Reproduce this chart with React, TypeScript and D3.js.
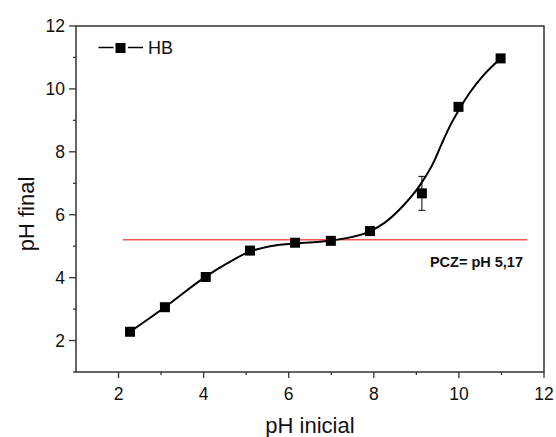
import React from "react";
import * as d3 from "d3";

const pHInicial = [2.27, 3.09, 4.05, 5.09, 6.15, 6.99, 7.91, 9.13, 9.99, 10.98];
const pHFinal = [2.28, 3.06, 4.02, 4.86, 5.11, 5.17, 5.48, 6.68, 9.43, 10.97];
const pHFinalErr = [0, 0, 0, 0, 0, 0, 0, 0.54, 0, 0];

// smooth fitted curve
const fitX = [2.27, 3.09, 4.05, 4.55, 5.09, 5.56, 6.15, 7.0, 7.92, 8.25, 8.7, 9.09, 9.41, 9.6, 9.8, 9.99, 10.27, 10.58, 10.98];
const fitY = [2.28, 3.06, 4.03, 4.45, 4.83, 5.0, 5.09, 5.18, 5.48, 5.74, 6.3, 6.95, 7.68, 8.27, 8.85, 9.31, 9.91, 10.44, 10.97];

const pcz = 5.17;
const pczRange = [2.1, 11.6];
const xTicks = [2, 4, 6, 8, 10, 12];
const xMinor = [3, 5, 7, 9, 11];
const yTicks = [2, 4, 6, 8, 10, 12];
const yMinor = [1, 3, 5, 7, 9, 11];

const W = 556;
const H = 437;
const L = 76, R = 544, T = 26, B = 372;
const FONT = "'Liberation Sans', Arial, sans-serif";

export default function App() {
  const x = d3.scaleLinear().domain([1, 12]).range([L, R]);
  const y = d3.scaleLinear().domain([1, 12]).range([B, T]);
  const pts = fitX.map((v, i) => [v, fitY[i]] as [number, number]);
  const line = d3
    .line<[number, number]>()
    .x((d) => x(d[0]))
    .y((d) => y(d[1]))
    .curve(d3.curveMonotoneX);
  const axisColor = "#333";
  const ms = 10;
  return (
    <svg width={W} height={H} style={{ display: "block", position: "absolute", left: 0, top: 0 }}>
      <rect x={0} y={0} width={W} height={H} fill="#fff" />
      {/* frame */}
      <rect x={L} y={T} width={R - L} height={B - T} fill="none" stroke={axisColor} strokeWidth={1.5} />
      {/* x ticks */}
      {xTicks.map((t) => (
        <g key={"xt" + t}>
          <line x1={x(t)} x2={x(t)} y1={B} y2={B + 6} stroke={axisColor} strokeWidth={1.3} />
          <text x={x(t)} y={399.5} textAnchor="middle" fontFamily={FONT} fontSize={17.5} fill="#111">
            {t}
          </text>
        </g>
      ))}
      {xMinor.map((t) => (
        <line key={"xm" + t} x1={x(t)} x2={x(t)} y1={B} y2={B + 3} stroke={axisColor} strokeWidth={1.3} />
      ))}
      {yTicks.map((t) => (
        <g key={"yt" + t}>
          <line x1={L - 7} x2={L} y1={y(t)} y2={y(t)} stroke={axisColor} strokeWidth={1.3} />
          <text x={65} y={y(t) + 6.3} textAnchor="end" fontFamily={FONT} fontSize={17.5} fill="#111">
            {t}
          </text>
        </g>
      ))}
      {yMinor.map((t) => (
        <line key={"ym" + t} x1={L - 3} x2={L} y1={y(t)} y2={y(t)} stroke={axisColor} strokeWidth={1.3} />
      ))}
      {/* axis titles */}
      <text x={x(6.5)} y={433} textAnchor="middle" fontFamily={FONT} fontSize={22} fill="#111">
        pH inicial
      </text>
      <text
        transform={`translate(34,${(T + B) / 2 + 15}) rotate(-90)`}
        textAnchor="middle"
        fontFamily={FONT}
        fontSize={22}
        fill="#111"
      >
        pH final
      </text>
      {/* PCZ line */}
      <line x1={x(pczRange[0])} x2={x(pczRange[1])} y1={y(pcz) - 1} y2={y(pcz) - 1} stroke="#f55" strokeWidth={1.5} />
      <text x={523} y={266.5} textAnchor="end" fontFamily={FONT} fontWeight="bold" fontSize={14.5} fill="#111">
        PCZ= pH 5,17
      </text>
      {/* curve */}
      <path d={line(pts) || ""} fill="none" stroke="#000" strokeWidth={2} />
      {/* error bars */}
      {pHInicial.map((v, i) =>
        pHFinalErr[i] > 0 ? (
          <g key={"e" + i} stroke="#000" strokeWidth={1}>
            <line x1={x(v)} x2={x(v)} y1={y(pHFinal[i] + pHFinalErr[i])} y2={y(pHFinal[i] - pHFinalErr[i])} />
            <line x1={x(v) - 3.5} x2={x(v) + 3.5} y1={y(pHFinal[i] + pHFinalErr[i])} y2={y(pHFinal[i] + pHFinalErr[i])} />
            <line x1={x(v) - 3.5} x2={x(v) + 3.5} y1={y(pHFinal[i] - pHFinalErr[i])} y2={y(pHFinal[i] - pHFinalErr[i])} />
          </g>
        ) : null
      )}
      {/* markers */}
      {pHInicial.map((v, i) => (
        <rect key={"m" + i} x={x(v) - ms / 2} y={y(pHFinal[i]) - ms / 2} width={ms} height={ms} fill="#000" />
      ))}
      {/* legend */}
      <line x1={98.5} x2={113.5} y1={47.5} y2={47.5} stroke="#000" strokeWidth={1.5} />
      <line x1={128} x2={143} y1={47.5} y2={47.5} stroke="#000" strokeWidth={1.5} />
      <rect x={115.5} y={43} width={10} height={10} fill="#000" />
      <text x={148} y={54} fontFamily={FONT} fontSize={18} fill="#111">
        HB
      </text>
    </svg>
  );
}
